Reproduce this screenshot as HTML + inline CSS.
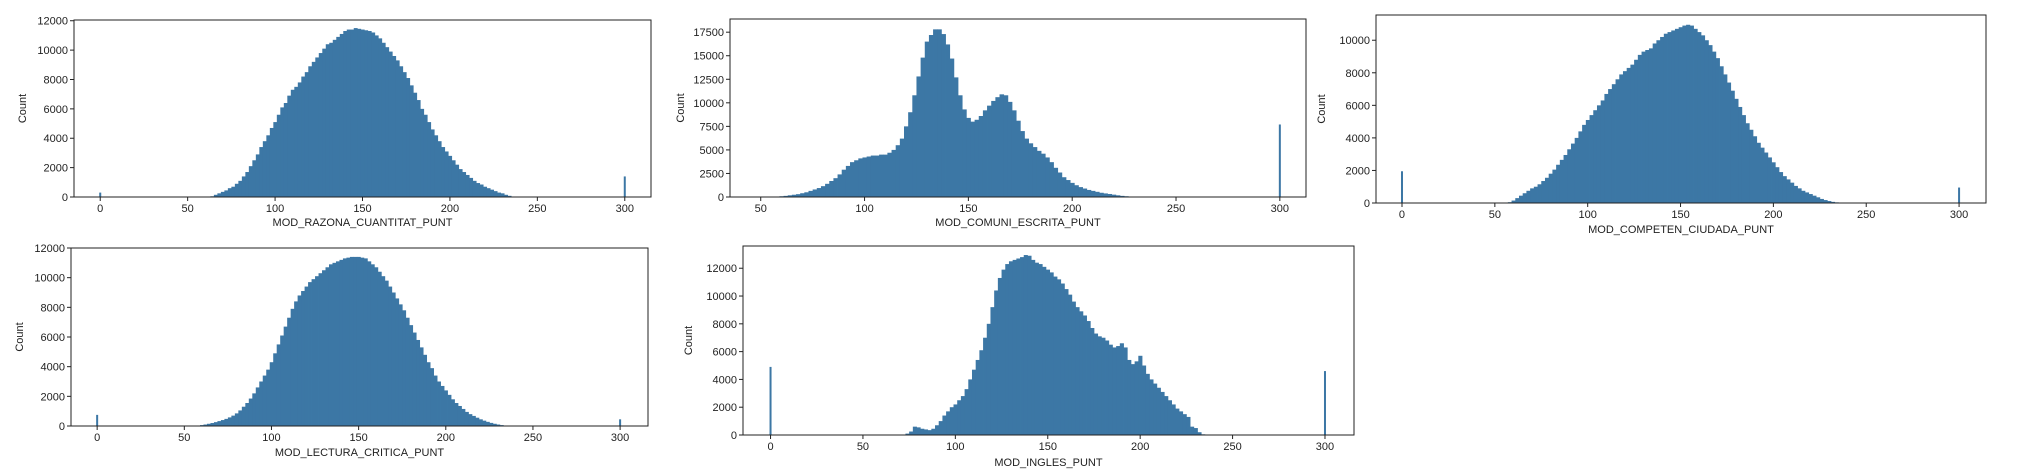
<!DOCTYPE html>
<html><head><meta charset="utf-8"><style>
html,body{margin:0;padding:0;background:#fff;}
svg{display:block;font-family:"Liberation Sans",sans-serif;}
</style></head><body>
<svg id="fig" width="2038" height="474" viewBox="0 0 2038 474" xmlns="http://www.w3.org/2000/svg"></svg>
<script>
// ---- data (2-unit bins: start value, then counts) ----
const razonaStart = 64;
const razonaCounts = [50,150,250,350,450,600,700,900,1100,1400,1700,2100,2500,2900,3400,3800,4200,4700,5100,5600,6100,6400,6900,7300,7500,7800,8200,8500,8900,9200,9500,9800,10100,10400,10500,10700,10900,11100,11300,11400,11400,11500,11450,11400,11350,11300,11200,11000,10800,10500,10200,9900,9600,9300,8900,8500,8100,7600,7100,6600,6000,5600,5100,4600,4200,3800,3400,3100,2800,2500,2200,1900,1700,1500,1300,1100,950,850,700,600,500,400,300,250,150,80,30];
const razonaSpikes = [[0,300],[300,1400]];

const comuniStart = 60;
const comuniCounts = [80,120,180,240,300,400,500,650,800,950,1150,1400,1700,2000,2400,2900,3300,3700,3900,4100,4200,4300,4400,4400,4500,4500,4700,5000,5500,6200,7500,9000,10800,12800,14800,16500,17200,17800,17800,17300,16200,14700,12700,10800,9300,8400,8000,8200,8600,9200,9700,10200,10600,10900,10800,10100,9200,8100,7000,6200,5700,5300,4900,4600,4200,3700,3100,2600,2100,1800,1500,1250,1050,900,750,650,550,450,380,320,250,180,120,80,40];
const comuniSpikes = [[300,7700]];

const competenStart = 58;
const competenCounts = [50,150,300,450,600,750,900,1000,1150,1350,1550,1800,2050,2350,2650,2950,3300,3650,4000,4400,4800,5100,5400,5700,6000,6300,6700,7000,7300,7600,7900,8100,8300,8500,8800,9100,9300,9400,9500,9800,10000,10200,10400,10500,10600,10700,10800,10900,10950,10900,10700,10500,10300,10000,9700,9300,8900,8400,7900,7400,6900,6400,5900,5400,4900,4500,4100,3700,3400,3100,2800,2500,2200,1900,1650,1450,1250,1050,900,750,650,550,450,350,250,180,120,70,40,20];
const competenSpikes = [[0,1950],[300,950]];

const lecturaStart = 58;
const lecturaCounts = [30,60,100,150,200,260,330,400,480,580,700,850,1050,1300,1550,1850,2200,2600,3000,3400,3800,4300,4900,5500,6100,6700,7300,7900,8400,8800,9100,9400,9700,9900,10100,10300,10500,10700,10900,11000,11100,11200,11300,11350,11400,11400,11400,11350,11300,11100,10900,10700,10400,10100,9800,9400,9000,8600,8200,7800,7300,6800,6300,5800,5300,4800,4300,3900,3400,3000,2700,2400,2100,1800,1550,1350,1150,950,800,680,560,450,360,280,210,150,100,60,30,15];
const lecturaSpikes = [[0,750],[300,450]];

const inglesStart = 74;
const inglesCounts = [100,250,600,550,450,400,350,450,700,1000,1400,1700,2000,2200,2500,2800,3300,4000,4700,5400,6100,7000,8000,9200,10400,11300,11900,12300,12500,12600,12700,12800,12950,12900,12600,12400,12300,12100,11900,11700,11400,11200,10900,10500,10100,9600,9200,8900,8600,8200,7700,7300,7100,7000,6800,6500,6300,6400,6600,6300,5400,5100,5300,5700,5000,4400,4000,3700,3400,3100,2800,2500,2200,1900,1700,1500,1300,600,500,200,50];
const inglesSpikes = [[0,4900],[300,4600]];

const xTicksFull = [0,50,100,150,200,250,300];
const xTicksComuni = [50,100,150,200,250,300];
const yTicks12000 = [0,2000,4000,6000,8000,10000,12000];
const yTicks17500 = [0,2500,5000,7500,10000,12500,15000,17500];
const yTicks10000 = [0,2000,4000,6000,8000,10000];

const NS = "http://www.w3.org/2000/svg";
const svg = document.getElementById('fig');
function mk(tag, attrs, parent){const e=document.createElementNS(NS,tag);for(const k in attrs)e.setAttribute(k,attrs[k]);(parent||svg).appendChild(e);return e;}

function drawChart(cfg){
  const g = mk('g',{});
  
  
  const xs = v => cfg.L + (v - cfg.x0)/(cfg.x1 - cfg.x0)*(cfg.R - cfg.L);
  const ys = v => cfg.B - v/cfg.ymax*(cfg.B - cfg.T);
  const col = '#3c77a5';
  cfg.counts.forEach((c,i)=>{
    const v = cfg.start + i*2;
    const x = xs(v-1), w = xs(v+1)-xs(v-1)+0.4;
    const r = mk('rect',{x:x,y:ys(c),width:w,height:ys(0)-ys(c),fill:col},g);
    
    
  });
  cfg.spikes.forEach(s=>{
    const r = mk('rect',{x:xs(s[0])-1,y:ys(s[1]),width:2,height:ys(0)-ys(s[1]),fill:col},g);
    
    
  });
  const frame = mk('rect',{x:cfg.L,y:cfg.T,width:cfg.R-cfg.L,height:cfg.B-cfg.T,fill:'none',stroke:'#222','stroke-width':1},g);
  
  
  cfg.xticks.forEach(t=>{
    const x = xs(t);
    mk('line',{x1:x,x2:x,y1:cfg.B,y2:cfg.B+4,stroke:'#222','stroke-width':1},g);
    const tx = mk('text',{x:x,y:cfg.B+15,'font-size':11,'text-anchor':'middle',fill:'#222'},g);
    tx.textContent = t;
    
    
  });
  cfg.yticks.forEach(t=>{
    const y = ys(t);
    mk('line',{x1:cfg.L-4,x2:cfg.L,y1:y,y2:y,stroke:'#222','stroke-width':1},g);
    const tx = mk('text',{x:cfg.L-6,y:y+4,'font-size':11,'text-anchor':'end',fill:'#222'},g);
    tx.textContent = t;
    
    
  });
  const xl = mk('text',{x:(cfg.L+cfg.R)/2,y:cfg.xlY,'font-size':11,'text-anchor':'middle',fill:'#222'},g);
  xl.textContent = cfg.xlabel;
  
  
  const yl = mk('text',{x:0,y:0,'font-size':11,'text-anchor':'middle',fill:'#222',transform:`translate(${cfg.ylX},${(cfg.T+cfg.B)/2}) rotate(-90)`},g);
  yl.textContent = 'Count';
  
  
}

drawChart({name:'razona-histogram',L:74,R:651,T:20,B:197,x0:-15,x1:315,ymax:12050,start:razonaStart,counts:razonaCounts,spikes:razonaSpikes,xticks:xTicksFull,yticks:yTicks12000,xlabel:'MOD_RAZONA_CUANTITAT_PUNT',xlY:226,ylX:26});
drawChart({name:'comuni-histogram',L:730,R:1306,T:19,B:197,x0:35.2,x1:312.6,ymax:18900,start:comuniStart,counts:comuniCounts,spikes:comuniSpikes,xticks:xTicksComuni,yticks:yTicks17500,xlabel:'MOD_COMUNI_ESCRITA_PUNT',xlY:226,ylX:684});
drawChart({name:'competen-histogram',L:1376,R:1986,T:15,B:203,x0:-14,x1:314.5,ymax:11550,start:competenStart,counts:competenCounts,spikes:competenSpikes,xticks:xTicksFull,yticks:yTicks10000,xlabel:'MOD_COMPETEN_CIUDADA_PUNT',xlY:233,ylX:1325});
drawChart({name:'lectura-histogram',L:71,R:648,T:248,B:426,x0:-15,x1:316,ymax:12000,start:lecturaStart,counts:lecturaCounts,spikes:lecturaSpikes,xticks:xTicksFull,yticks:yTicks12000,xlabel:'MOD_LECTURA_CRITICA_PUNT',xlY:456,ylX:23});
drawChart({name:'ingles-histogram',L:743,R:1354,T:246,B:435,x0:-14.9,x1:315.7,ymax:13600,start:inglesStart,counts:inglesCounts,spikes:inglesSpikes,xticks:xTicksFull,yticks:yTicks12000,xlabel:'MOD_INGLES_PUNT',xlY:466,ylX:692});
</script>
</body></html>
